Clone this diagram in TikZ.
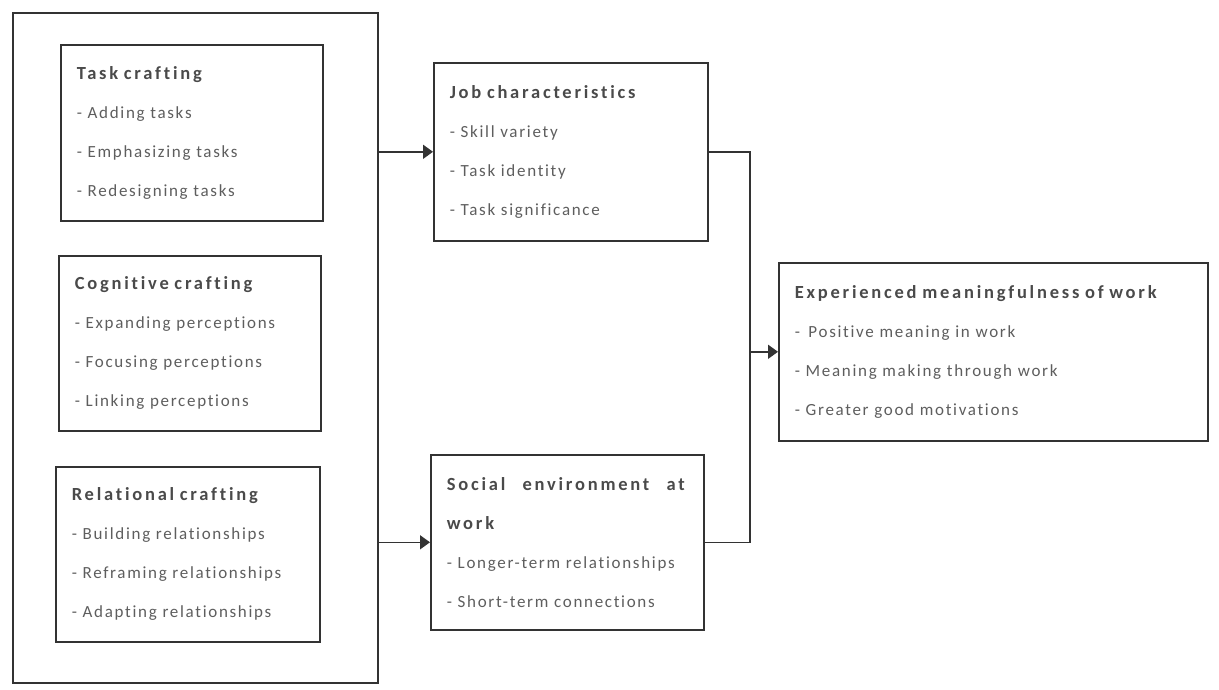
\documentclass[tikz,border=0pt]{standalone}
\usepackage{fontspec}
\setmainfont{Carlito}[LetterSpace=10,Ligatures={NoCommon}]
\newfontfamily\titlefont{Carlito}[LetterSpace=15,Ligatures={NoCommon},BoldFont={Carlito Bold}]
\usetikzlibrary{arrows.meta}
\definecolor{ln}{HTML}{333333}
\definecolor{tx}{HTML}{5E5E5E}
\definecolor{tt}{HTML}{4A4A4A}
\newcommand{\ttl}[1]{{\titlefont\fontsize{18.5}{39}\selectfont\bfseries\color{tt}#1}}
\begin{document}
\begin{tikzpicture}[x=1pt,y=-1pt,
  box/.style={draw=ln, line width=1.6pt, anchor=north west, inner sep=0pt},
  tbox/.style n args={3}{box, minimum width=#1, minimum height=#2, text width=#3,
    align=left, inner xsep=16pt, text=tx, font=\fontsize{17}{39}\selectfont},
  arr/.style={draw=ln, line width=1.6pt, -{Triangle[length=10pt,width=14pt]}},
  conn/.style={draw=ln, line width=1.6pt}]
\useasboundingbox (0,0) rectangle (1219,690);
\fill[white] (0,0) rectangle (1219,690);

\node[box, minimum width=365pt, minimum height=670pt] (outer) at (12,12) {};

\node[tbox={262pt}{176pt}{230pt}] (tc) at (60,44)
  {\ttl{Task crafting}\\- Adding tasks\\- Emphasizing tasks\\- Redesigning tasks};
\node[tbox={262pt}{175pt}{230pt}] (cc) at (58,255)
  {\ttl{Cognitive crafting}\\- Expanding perceptions\\- Focusing perceptions\\- Linking perceptions};
\node[tbox={264pt}{175pt}{232pt}] (rc) at (55,466)
  {\ttl{Relational crafting}\\- Building relationships\\- Reframing relationships\\- Adapting relationships};

\node[tbox={274pt}{178pt}{242pt}] (jc) at (433,62)
  {\ttl{Job characteristics}\\- Skill variety\\- Task identity\\- Task significance};
\node[tbox={273pt}{175pt}{241pt}] (se) at (430,454)
  {\ttl{\makebox[238pt][l]{Social\hfill environment\hfill at}}\\\ttl{work}\\- Longer-term relationships\\- Short-term connections};
\node[tbox={429pt}{178pt}{397pt}] (em) at (778,262)
  {\ttl{Experienced meaningfulness of work}\\- \,Positive meaning in work\\- Meaning making through work\\- Greater good motivations};

\draw[arr] (outer.east |- jc.west) -- (jc.west);
\draw[arr] (outer.east |- se.west) -- (se.west);
\coordinate (j) at (750,351);
\draw[conn] (jc.east) -| (j) |- (se.east);
\draw[arr] (j |- em.west) -- (em.west);
\end{tikzpicture}
\end{document}
